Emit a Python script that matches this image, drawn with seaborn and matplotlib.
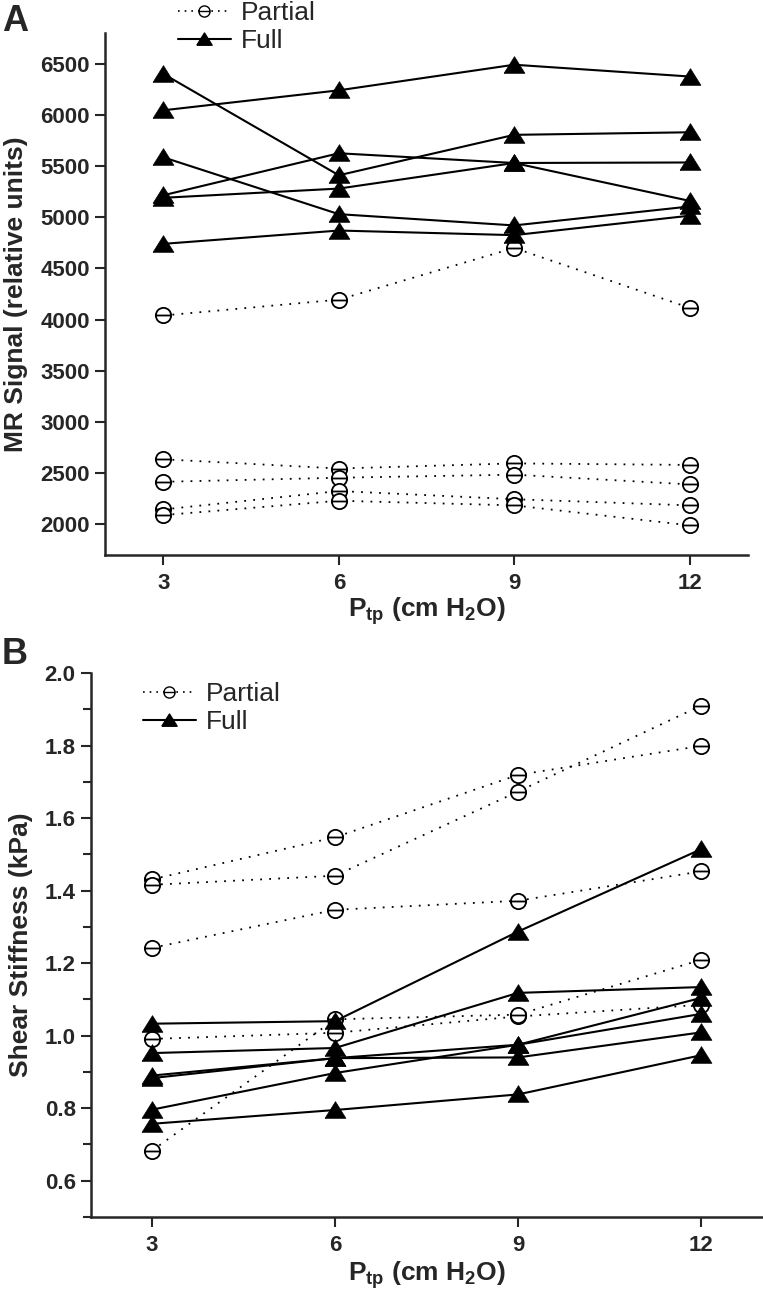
import numpy as np
import pandas as pd
import matplotlib
matplotlib.use("Agg")
import matplotlib.pyplot as plt
from matplotlib.path import Path
from matplotlib.lines import Line2D
from matplotlib.ticker import MultipleLocator, FormatStrFormatter
import seaborn as sns

# ---- data ----
ptp = [3, 6, 9, 12]

# panel A: MR signal (relative units), one list per animal
mr_partial = [
    [4040, 4195, 4700, 4115],
    [2635, 2545, 2595, 2580],
    [2415, 2455, 2485, 2390],
    [2145, 2325, 2245, 2185],
    [2090, 2230, 2185, 1990],
]
mr_full = [
    [6400, 5410, 5805, 5830],
    [6045, 6240, 6490, 6375],
    [5585, 5030, 4920, 5105],
    [5215, 5625, 5530, 5535],
    [5190, 5280, 5530, 5160],
    [4740, 4870, 4825, 5015],
]

# panel B: shear stiffness (kPa)
ss_partial = [
    [1.431, 1.547, 1.719, 1.799],
    [1.416, 1.441, 1.673, 1.910],
    [1.242, 1.347, 1.372, 1.453],
    [0.991, 1.008, 1.053, 1.085],
    [0.683, 1.045, 1.058, 1.209],
]
ss_full = [
    [1.033, 1.040, 1.287, 1.514],
    [0.952, 0.966, 1.118, 1.134],
    [0.890, 0.938, 0.975, 1.104],
    [0.883, 0.938, 0.940, 1.009],
    [0.796, 0.897, 0.975, 1.060],
    [0.757, 0.795, 0.838, 0.946],
]

mr_yticks = list(range(2000, 7000, 500))
ss_yticks = [0.6, 0.8, 1.0, 1.2, 1.4, 1.6, 1.8, 2.0]


def long_form(partial, full):
    rows = []
    for grp, series in (("Partial", partial), ("Full", full)):
        for i, vals in enumerate(series):
            for x, v in zip(ptp, vals):
                rows.append({"P": x, "value": v, "subject": f"{grp}{i}", "group": grp})
    return pd.DataFrame(rows)


df_a = long_form(mr_partial, mr_full)
df_b = long_form(ss_partial, ss_full)

# ---- style ----
sns.set_style("ticks")
plt.rcParams["font.family"] = ["Liberation Sans", "DejaVu Sans"]
plt.rcParams["font.weight"] = "bold"
plt.rcParams["mathtext.fontset"] = "custom"
plt.rcParams["mathtext.rm"] = "Liberation Sans:bold"
plt.rcParams["mathtext.bf"] = "Liberation Sans:bold"
plt.rcParams["mathtext.it"] = "Liberation Sans:bold"

# circle with a horizontal bar, and a flat triangle
circ_bar = Path.make_compound_path(
    Path.unit_circle(), Path([(-1, 0), (1, 0)], [Path.MOVETO, Path.LINETO])
)
tri = [(-1, -0.75), (1, -0.75), (0, 0.85), (-1, -0.75)]
dot_ls = (0, (1, 4))

W, H = 763, 1293
fig = plt.figure(figsize=(W / 100, H / 100), dpi=100)


def px_axes(left, right, top, bottom):
    return fig.add_axes([left / W, 1 - bottom / H, (right - left) / W, (bottom - top) / H])


ax_a = px_axes(105, 748, 33, 555)
ax_b = px_axes(91, 762, 673, 1217)


def draw(ax, df):
    sns.lineplot(data=df[df.group == "Partial"], x="P", y="value", units="subject",
                 estimator=None, color="black", linestyle=dot_ls, lw=1.3,
                 marker=circ_bar, markersize=11, markerfacecolor="white",
                 markeredgecolor="black", markeredgewidth=1.3, legend=False, ax=ax)
    sns.lineplot(data=df[df.group == "Full"], x="P", y="value", units="subject",
                 estimator=None, color="black", linestyle="-", lw=1.5,
                 marker=tri, markersize=15, markerfacecolor="black",
                 markeredgecolor="black", markeredgewidth=0.5, legend=False, ax=ax)
    ax.set_xlim(2, 13)
    ax.set_xticks(ptp)
    for side in ("top", "right"):
        ax.spines[side].set_visible(False)
    for side in ("left", "bottom"):
        ax.spines[side].set_linewidth(1.8)
    ax.tick_params(which="major", direction="out", length=7, width=1.5,
                   labelsize=16, pad=4)
    ax.tick_params(axis="x", pad=6)
    ax.set_xlabel(r"$\mathbf{P_{tp}}$ (cm H$_\mathbf{2}$O)", fontsize=19, fontweight="bold")


draw(ax_a, df_a)
ax_a.set_ylim(1700, 6800)
ax_a.set_yticks(mr_yticks)
ax_a.set_ylabel("MR Signal (relative units)", fontsize=19, fontweight="bold")

draw(ax_b, df_b)
ax_b.set_ylim(0.5, 2.0)
ax_b.set_yticks(ss_yticks)
ax_b.yaxis.set_major_formatter(FormatStrFormatter("%.1f"))
ax_b.yaxis.set_minor_locator(MultipleLocator(0.1))
ax_b.tick_params(axis="y", which="minor", direction="out", length=6, width=1.5)
ax_b.set_ylabel("Shear Stiffness (kPa)", fontsize=19, fontweight="bold")

# label placement (pixel based)
ax_a.yaxis.set_label_coords((28 - 105) / (748 - 105), 0.5)
ax_b.yaxis.set_label_coords((33 - 91) / (762 - 91), 0.5)
ax_a.xaxis.set_label_coords(0.5, -(595 - 555) / (555 - 33))
ax_b.xaxis.set_label_coords(0.5, -(1259 - 1217) / (1217 - 673))
ax_a.xaxis.label.set_va("top")
ax_b.xaxis.label.set_va("top")

# legends
handles = [
    Line2D([], [], color="black", linestyle=(0, (1, 3)), lw=1.2, marker=circ_bar,
           markersize=8, markerfacecolor="white", markeredgecolor="black",
           markeredgewidth=1.0),
    Line2D([], [], color="black", linestyle="-", lw=1.5, marker=tri, markersize=11,
           markerfacecolor="black", markeredgecolor="black"),
]
for ax, (lx, ly) in ((ax_a, (178, 1)), (ax_b, (143, 682))):
    ax.legend(handles, ["Partial", "Full"], loc="upper left",
              bbox_to_anchor=(lx / W, 1 - ly / H), bbox_transform=fig.transFigure,
              frameon=False, borderpad=0, borderaxespad=0, handlelength=2.0,
              handletextpad=0.4, labelspacing=0.15, numpoints=1,
              prop={"size": 19, "weight": "normal"})

fig.text(2 / W, 1 - 31 / H, "A", fontsize=26, fontweight="bold", va="baseline", ha="left")
fig.text(2 / W, 1 - 664 / H, "B", fontsize=26, fontweight="bold", va="baseline", ha="left")

fig.savefig("out.png", dpi=100)
